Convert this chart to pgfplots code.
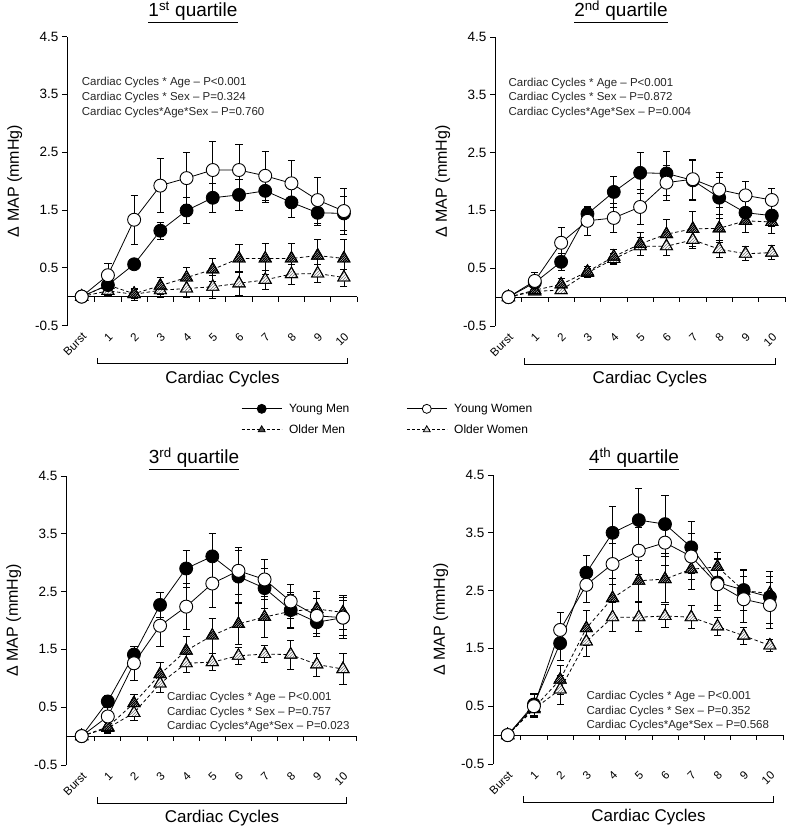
\documentclass[border=0pt]{standalone}
\usepackage{pgfplots}
\pgfplotsset{compat=1.18}
\usepackage{pgfplotstable}
\usepackage{fontspec}
\setmainfont{Liberation Sans}
\usetikzlibrary{patterns}

\pgfdeclarepatternformonly{omhatch}{\pgfqpoint{-1pt}{-1pt}}{\pgfqpoint{3.5pt}{3.5pt}}{\pgfqpoint{2.4pt}{2.4pt}}{%
  \pgfsetlinewidth{1.0pt}%
  \pgfpathmoveto{\pgfqpoint{-0.5pt}{-0.5pt}}%
  \pgfpathlineto{\pgfqpoint{2.9pt}{2.9pt}}%
  \pgfusepath{stroke}}
\pgfdeclarepatternformonly{owhatch}{\pgfqpoint{-1pt}{-1pt}}{\pgfqpoint{4pt}{4pt}}{\pgfqpoint{3pt}{3pt}}{%
  \pgfsetlinewidth{0.6pt}%
  \pgfpathmoveto{\pgfqpoint{-0.5pt}{-0.5pt}}%
  \pgfpathlineto{\pgfqpoint{3.5pt}{3.5pt}}%
  \pgfusepath{stroke}}

% x ym yme yw ywe om ome ow owe
\pgfplotstableread{
x ym yme yw ywe om ome ow owe
0 0 0 0 0 0 0 0 0
1 0.20 0.06 0.37 0.20 0.20 0.10 0.10 0.08
2 0.56 0.06 1.33 0.42 0.05 0.08 0.04 0.10
3 1.14 0.15 1.92 0.47 0.19 0.15 0.11 0.12
4 1.49 0.22 2.05 0.45 0.33 0.17 0.14 0.15
5 1.71 0.25 2.19 0.50 0.47 0.20 0.17 0.20
6 1.76 0.27 2.19 0.45 0.66 0.24 0.23 0.20
7 1.83 0.20 2.09 0.42 0.66 0.27 0.29 0.17
8 1.63 0.26 1.96 0.39 0.66 0.27 0.39 0.17
9 1.45 0.22 1.67 0.40 0.71 0.28 0.40 0.15
10 1.44 0.30 1.48 0.40 0.66 0.33 0.33 0.15
}\dataA
\pgfplotstableread{
x ym yme yw ywe om ome ow owe
0 0 0 0 0 0 0 0 0
1 0.25 0.10 0.28 0.15 0.12 0.05 0.10 0.05
2 0.61 0.15 0.94 0.27 0.22 0.10 0.12 0.05
3 1.44 0.12 1.32 0.25 0.44 0.10 0.42 0.08
4 1.82 0.27 1.37 0.25 0.70 0.12 0.66 0.10
5 2.15 0.35 1.56 0.30 0.92 0.20 0.88 0.15
6 2.14 0.38 1.98 0.30 1.09 0.25 0.88 0.15
7 2.02 0.35 2.04 0.35 1.18 0.30 0.99 0.15
8 1.72 0.35 1.86 0.30 1.19 0.25 0.83 0.15
9 1.46 0.20 1.76 0.25 1.32 0.20 0.75 0.12
10 1.41 0.18 1.68 0.20 1.30 0.20 0.77 0.12
}\dataB
\pgfplotstableread{
x ym yme yw ywe om ome ow owe
0 0 0 0 0 0 0 0 0
1 0.60 0.10 0.34 0.20 0.16 0.10 0.14 0.10
2 1.41 0.15 1.26 0.30 0.57 0.15 0.40 0.12
3 2.27 0.22 1.91 0.35 1.07 0.20 0.91 0.15
4 2.90 0.32 2.24 0.40 1.48 0.25 1.26 0.15
5 3.11 0.39 2.64 0.41 1.74 0.30 1.28 0.15
6 2.76 0.45 2.86 0.40 1.94 0.35 1.39 0.15
7 2.56 0.35 2.71 0.35 2.06 0.35 1.42 0.15
8 2.18 0.30 2.33 0.30 2.16 0.30 1.41 0.25
9 1.97 0.25 2.08 0.30 2.20 0.30 1.24 0.20
10 2.05 0.30 2.05 0.35 2.14 0.30 1.16 0.27
}\dataC
\pgfplotstableread{
x ym yme yw ywe om ome ow owe
0 0 0 0 0 0 0 0 0
1 0.53 0.20 0.50 0.20 0.47 0.15 0.45 0.10
2 1.59 0.30 1.82 0.30 0.96 0.25 0.79 0.25
3 2.81 0.30 2.60 0.30 1.85 0.30 1.62 0.25
4 3.50 0.45 2.96 0.35 2.37 0.35 2.04 0.25
5 3.72 0.55 3.19 0.40 2.67 0.35 2.04 0.25
6 3.65 0.50 3.33 0.40 2.70 0.40 2.06 0.20
7 3.25 0.45 3.09 0.40 2.87 0.35 2.04 0.20
8 2.64 0.40 2.61 0.45 2.91 0.25 1.88 0.15
9 2.51 0.35 2.35 0.40 2.50 0.35 1.72 0.15
10 2.39 0.45 2.25 0.40 2.45 0.30 1.55 0.10
}\dataD

\pgfplotsset{
  panel/.style={
    scale only axis, width=290pt, height=289pt,
    ymin=-0.5, ymax=4.5, xmax=10.5, clip=false,
    axis y line*=left, axis x line*=bottom,
    x axis line style={draw=none},
    y axis line style={line width=0.8pt},
    ytick={-0.5,0.5,1.5,2.5,3.5,4.5},
    yticklabels={-0.5,0.5,1.5,2.5,3.5,4.5},
    tick align=outside, major tick length=5pt,
    ytick style={line width=0.8pt, black},
    xtick={0,...,10}, xticklabels={Burst,1,2,3,4,5,6,7,8,9,10},
    xtick style={draw=none},
    xticklabel style={rotate=45, anchor=east, font=\fontsize{11.5}{13}\selectfont, yshift=-5pt, inner sep=1pt},
    yticklabel style={font=\fontsize{13.5}{15}\selectfont},
    ylabel={Δ MAP (mmHg)},
    ylabel style={at={(axis description cs:-0.18,0.5)}, anchor=center, font=\fontsize{16}{19}\selectfont},
  },
  errs/.style={error bars/y dir=both, error bars/y explicit,
    error bars/error bar style={line width=0.7pt, solid, black},
    error bars/error mark options={rotate=90, mark size=3.6pt, line width=0.7pt, solid, black}},
  ym/.style={forget plot, black, line width=0.8pt, mark=*, mark size=6.5pt, mark options={solid, fill=black, line width=0.8pt}, errs},
  yw/.style={forget plot, black, line width=0.8pt, mark=*, mark size=6.5pt, mark options={solid, fill=white, line width=0.9pt}, errs},
  om/.style={forget plot, black, line width=0.8pt, dash pattern=on 3.5pt off 2.5pt, mark=triangle*, mark size=7pt, mark options={solid, fill=white, line width=0.9pt}, errs},
  omp/.style={forget plot, only marks, mark=triangle*, mark size=7pt, mark options={solid, draw=black, line width=0.9pt, /utils/exec={\pgfsetfillpattern{omhatch}{black}}}},
  owp/.style={forget plot, only marks, mark=triangle*, mark size=7pt, mark options={solid, draw=black, line width=0.9pt, /utils/exec={\pgfsetfillpattern{owhatch}{gray}}}},
  legimg/.style={legend image code/.code={\draw[mark repeat=2,mark phase=2,##1] plot coordinates {(0pt,0pt)(20pt,0pt)(40pt,0pt)};}},
}

\newcommand{\panelframe}[1]{%
  \draw[line width=0.8pt] (axis cs:#1,0) -- (axis cs:10.5,0);
  \pgfplotsinvokeforeach{0.5,1.5,2.5,3.5,4.5,5.5,6.5,7.5,8.5,9.5,10.5}{\draw[line width=0.8pt] (axis cs:##1,0) -- ++(0pt,-5pt);}
  \draw[line width=0.8pt] (axis cs:0.6,-1.06) -- (axis cs:0.6,-1.16) -- (axis cs:10.15,-1.16) -- (axis cs:10.15,-1.06);
  \node[font=\fontsize{17}{19}\selectfont] at (axis cs:5.37,-1.42) {Cardiac Cycles};
}
\newcommand{\panelplots}[1]{%
  \addplot[om] table[x=x,y=ow,y error=owe]{#1};
  \addplot[owp] table[x=x,y=ow]{#1};
  \addplot[om] table[x=x,y=om,y error=ome]{#1};
  \addplot[omp] table[x=x,y=om]{#1};
  \addplot[ym] table[x=x,y=ym,y error=yme]{#1};
  \addplot[yw] table[x=x,y=yw,y error=ywe]{#1};
}
\newcommand{\stats}[5]{% x, y1, p1, p2, p3
  \node[anchor=west, font=\fontsize{11.5}{13}\selectfont, text=black!85, inner sep=0pt] at (axis cs:#1,#2) {Cardiac Cycles * Age -- P<#3};
  \node[anchor=west, font=\fontsize{11.5}{13}\selectfont, text=black!85, inner sep=0pt] at (axis cs:#1,#2-0.255) {Cardiac Cycles * Sex -- P=#4};
  \node[anchor=west, font=\fontsize{11.5}{13}\selectfont, text=black!85, inner sep=0pt] at (axis cs:#1,#2-0.51) {Cardiac Cycles*Age*Sex -- P=#5};
}

\begin{document}
\begin{tikzpicture}
\useasboundingbox (0pt,0pt) rectangle (785pt,-830pt);

% Panel 1
\begin{axis}[panel, at={(67pt,-325.5pt)}, anchor=south west, xmin=-0.56,
  legend columns=2,
  legend style={at={(axis description cs:0.59,-0.325)}, anchor=west, draw=none, fill=none,
    font=\fontsize{12}{14}\selectfont, row sep=7pt,
    /tikz/every odd column/.append style={column sep=5pt},
    /tikz/every even column/.append style={column sep=55pt}},
  legend cell align=left, legimg,
]
\panelframe{-0.56}
\panelplots{\dataA}
\stats{0.0}{3.70}{0.001}{0.324}{0.760}
\addlegendimage{black, line width=0.8pt, mark=*, mark size=4.5pt, mark options={solid, fill=black}}
\addlegendentry{Young Men}
\addlegendimage{black, line width=0.8pt, mark=*, mark size=4.5pt, mark options={solid, fill=white}}
\addlegendentry{Young Women}
\addlegendimage{black, line width=0.8pt, dash pattern=on 3pt off 2pt, mark=triangle*, mark size=4pt, mark options={solid, fill=black!70}}
\addlegendentry{Older Men}
\addlegendimage{black, line width=0.8pt, dash pattern=on 3pt off 2pt, mark=triangle*, mark size=4pt, mark options={solid, fill=black!15}}
\addlegendentry{Older Women}
\end{axis}
\node[font=\fontsize{19}{22}\selectfont] at (193pt,-12pt) {\underline{1\textsuperscript{st} quartile}};

% Panel 2
\begin{axis}[panel, at={(495pt,-326pt)}, anchor=south west, xmin=-0.51]
\panelframe{-0.51}
\panelplots{\dataB}
\stats{0.0}{3.70}{0.001}{0.872}{0.004}
\end{axis}
\node[font=\fontsize{19}{22}\selectfont] at (621pt,-12pt) {\underline{2\textsuperscript{nd} quartile}};

% Panel 3
\begin{axis}[panel, at={(66pt,-765pt)}, anchor=south west, xmin=-0.6]
\panelframe{-0.6}
\panelplots{\dataC}
\stats{3.26}{0.67}{0.001}{0.757}{0.023}
\end{axis}
\node[font=\fontsize{19}{22}\selectfont] at (194pt,-459pt) {\underline{3\textsuperscript{rd} quartile}};

% Panel 4
\begin{axis}[panel, at={(493pt,-764pt)}, anchor=south west, xmin=-0.56]
\panelframe{-0.56}
\panelplots{\dataD}
\stats{3.0}{0.67}{0.001}{0.352}{0.568}
\end{axis}
\node[font=\fontsize{19}{22}\selectfont] at (634pt,-459pt) {\underline{4\textsuperscript{th} quartile}};
\end{tikzpicture}
\end{document}
